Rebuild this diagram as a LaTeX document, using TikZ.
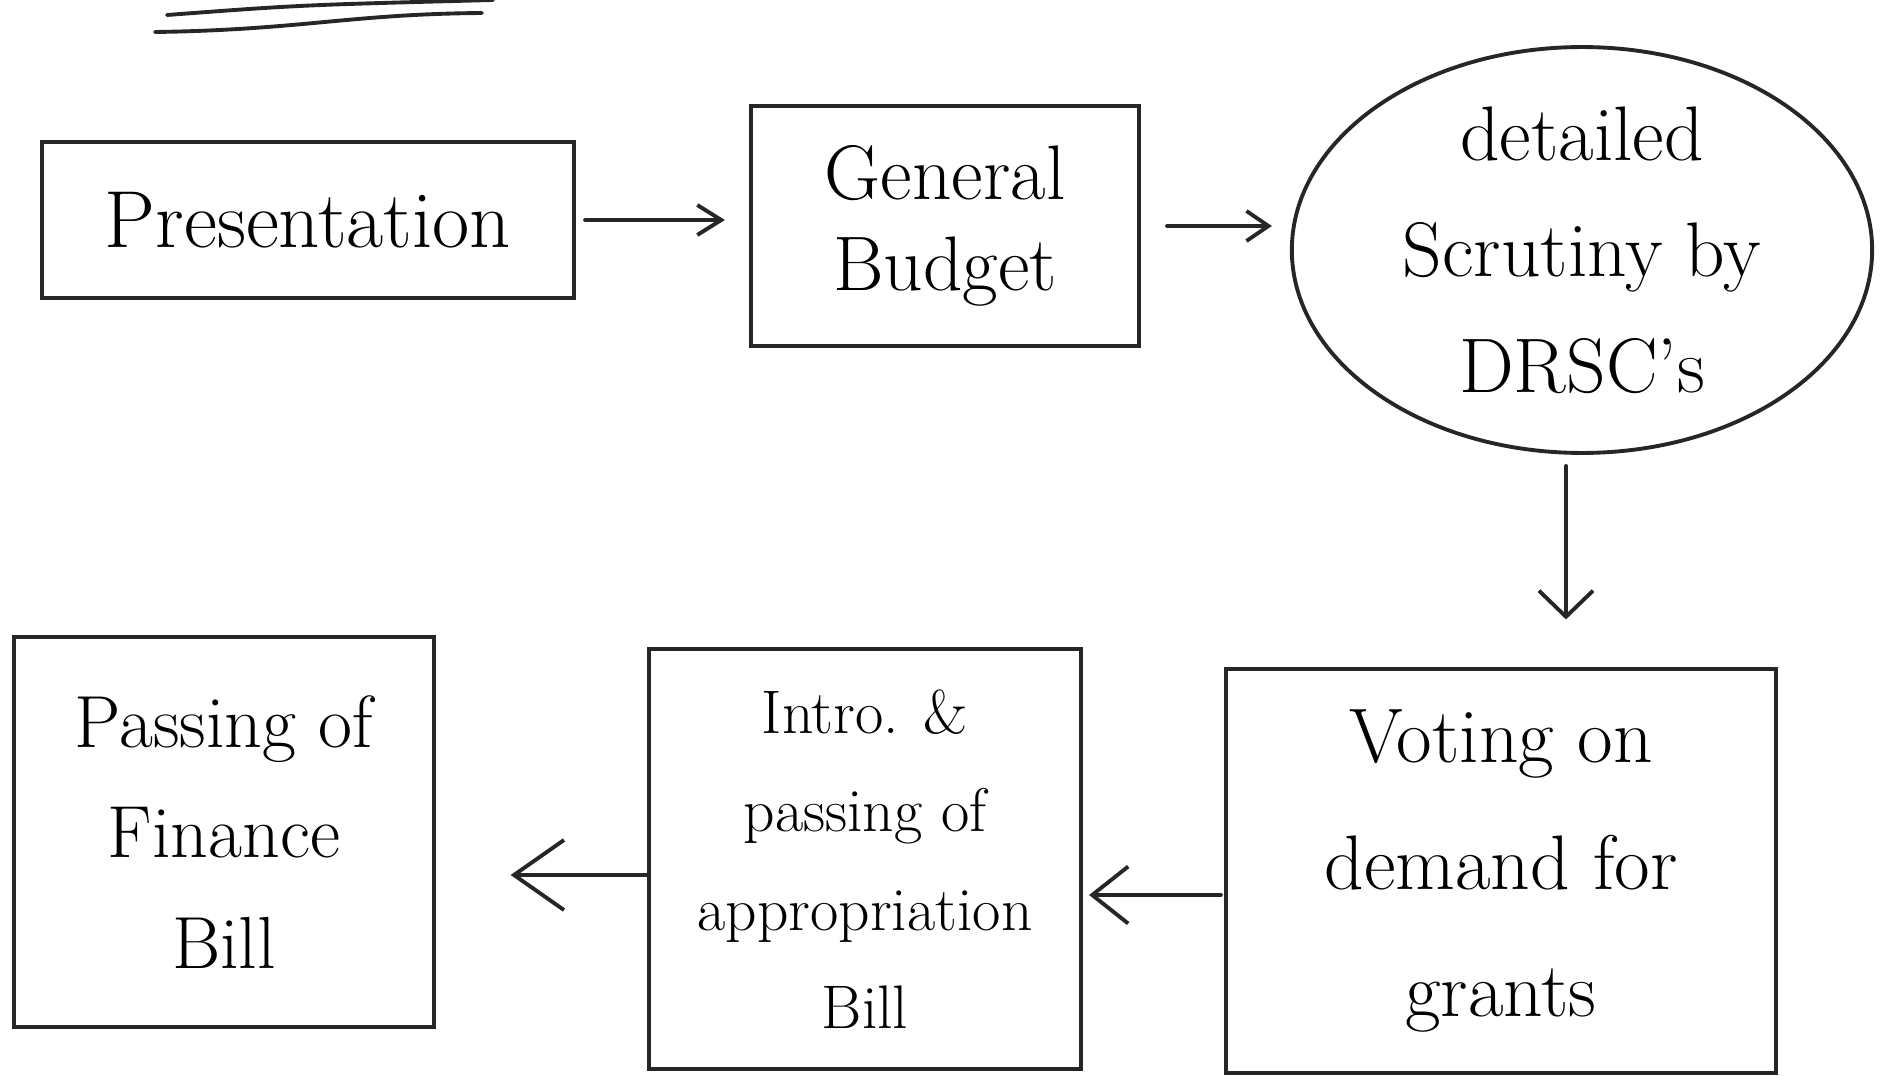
\documentclass[tikz,border=0pt]{standalone}
\usetikzlibrary{arrows.meta,shapes.geometric,calc}
\begin{document}
\begin{tikzpicture}[x=0.01cm,y=-0.01cm,
  ink/.style={draw=black!85,line width=1.1pt},
  boxnode/.style={ink,rectangle,inner sep=0pt,align=center},
  conn/.style={ink,line cap=round},
  f22/.style={font=\fontsize{22}{26}\selectfont},
]
\useasboundingbox (0,0) rectangle (1884,1076);
% underline strokes at top
\draw[conn] (167,15) .. controls (300,5) .. (493,0);
\draw[conn] (155,32) .. controls (300,30) and (350,14) .. (482,13);
% nodes
\node[boxnode,minimum width=5.32cm,minimum height=1.56cm,font=\fontsize{23}{28}\selectfont] (pres) at (308,220) {Presentation};
\node[boxnode,minimum width=3.88cm,minimum height=2.40cm,font=\fontsize{22}{26}\selectfont] (gen) at (945,226) {General\\Budget};
\node[ink,ellipse,inner sep=0pt,minimum width=5.80cm,minimum height=3.92cm,align=center,font=\fontsize{22}{33}\selectfont] (circ) at (1582,250) {detailed\\Scrutiny by\\DRSC's};
\node[boxnode,minimum width=5.50cm,minimum height=4.03cm,font=\fontsize{22}{36}\selectfont] (vote) at (1501,871) {Voting on\\demand for\\grants};
\node[boxnode,minimum width=4.32cm,minimum height=4.20cm,font=\fontsize{17.5}{28}\selectfont] (intro) at (865,859) {Intro. \&\\passing of\\appropriation\\Bill};
\node[boxnode,minimum width=4.19cm,minimum height=3.90cm,font=\fontsize{21}{31.5}\selectfont] (pass) at (224,832) {Passing of\\Finance\\Bill};
% connectors
\draw[conn,-{Straight Barb[length=0.24cm,width=0.30cm,line width=1.1pt]},shorten <=0.09cm,shorten >=0.24cm] (pres.east) -- (pres.east -| gen.west);
\draw[conn,-{Straight Barb[length=0.22cm,width=0.30cm,line width=1.1pt]},shorten <=0.26cm,shorten >=0.18cm] (gen.east) -- (gen.east -| circ.west);
\coordinate (d1) at ([xshift=-0.16cm]circ.south);
\draw[conn,-{Straight Barb[length=0.26cm,width=0.54cm,line width=1.1pt]},shorten <=0.11cm,shorten >=0.48cm] (d1) -- (d1 |- vote.north);
\coordinate (a1) at ([yshift=-0.24cm]vote.west);
\draw[conn,-{Straight Barb[length=0.36cm,width=0.57cm,line width=1.1pt]},shorten <=0.03cm,shorten >=0.06cm] (a1) -- (a1 -| intro.east);
\coordinate (a2) at ([yshift=-0.16cm]intro.west);
\draw[conn,-{Straight Barb[length=0.50cm,width=0.70cm,line width=1.1pt]},shorten >=0.75cm] (a2) -- (a2 -| pass.east);
\end{tikzpicture}
\end{document}
